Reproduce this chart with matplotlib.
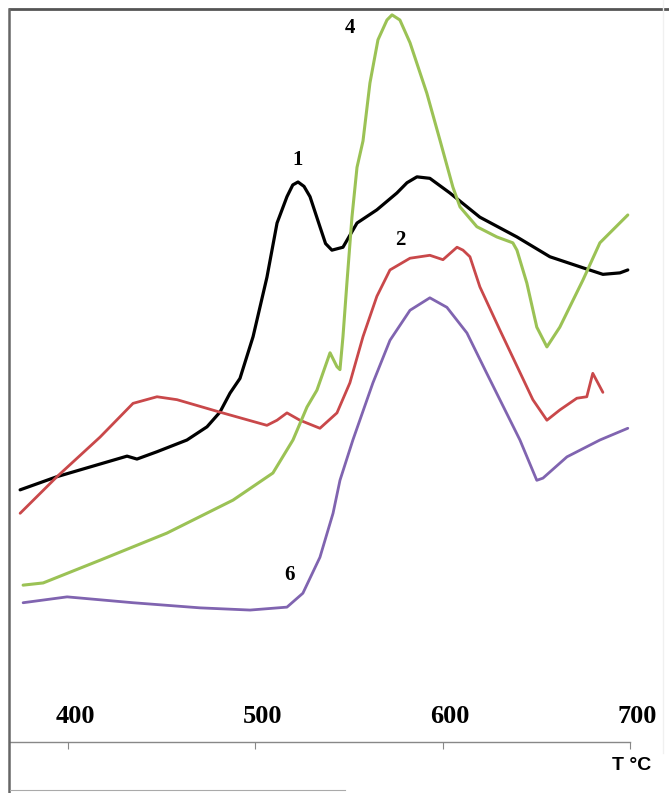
import numpy as np
import matplotlib
matplotlib.use("Agg")
import matplotlib.pyplot as plt
from matplotlib.lines import Line2D

# curve 1 (black)
t1 = [374.4, 394.1, 431.5, 436.8, 447.5, 463.5, 474.2, 481.1, 486.5, 491.8, 498.8,
      506.2, 511.6, 516.9, 520.0, 522.8, 526.0, 529.2, 534.5, 537.5, 540.9, 546.8,
      554.3, 564.9, 575.6, 581.0, 586.3, 593.2, 603.9, 619.9, 639.7, 657.3, 674.9,
      685.6, 694.7, 698.9]
y1 = [34.4, 36.2, 39.0, 38.6, 39.6, 41.2, 43.0, 45.0, 47.6, 49.6, 55.3,
      63.4, 70.8, 74.4, 76.0, 76.4, 75.8, 74.4, 70.3, 68.0, 67.1, 67.5,
      70.8, 72.6, 74.9, 76.3, 77.1, 76.9, 74.9, 71.6, 68.9, 66.2, 64.7,
      63.8, 64.0, 64.4]

# curve 2 (red)
t2 = [374.4, 394.1, 417.1, 434.7, 447.5, 458.2, 481.1, 506.2, 511.6, 516.9, 523.8,
      534.5, 543.6, 550.5, 557.5, 564.9, 571.9, 582.6, 593.2, 600.2, 607.7, 610.9,
      614.6, 619.9, 630.6, 648.2, 655.7, 662.6, 671.7, 677.0, 680.2, 685.6]
y2 = [31.2, 36.2, 41.6, 46.2, 47.1, 46.7, 45.0, 43.2, 43.9, 44.9, 43.9,
      42.8, 44.9, 49.0, 55.3, 60.8, 64.4, 66.0, 66.4, 65.8, 67.5, 67.1,
      66.2, 62.1, 56.2, 46.7, 43.9, 45.3, 46.9, 47.1, 50.3, 47.7]

# curve 4 (green)
t4 = [376.0, 386.7, 417.1, 452.8, 488.1, 509.4, 520.1, 527.6, 532.9, 539.9, 543.6,
      545.2, 546.8, 548.9, 551.6, 554.3, 557.5, 561.2, 565.5, 570.3, 573.0, 577.2,
      582.6, 591.6, 598.6, 605.5, 609.3, 618.3, 629.0, 637.5, 639.7, 645.0, 650.3,
      655.7, 662.6, 674.9, 684.0, 698.9]
y4 = [21.4, 21.7, 24.8, 28.5, 33.0, 36.7, 41.2, 45.7, 48.0, 53.1, 51.2,
      50.8, 55.3, 62.6, 71.6, 78.4, 82.0, 89.9, 95.8, 98.5, 99.2, 98.5,
      95.4, 88.5, 82.1, 75.7, 73.0, 70.3, 68.9, 68.1, 67.1, 62.6, 56.6,
      53.9, 56.6, 63.0, 68.1, 71.9]

# curve 6 (purple)
t6 = [376.0, 399.5, 434.7, 470.5, 497.2, 516.9, 525.4, 534.5, 541.5, 545.2, 552.1,
      562.8, 571.9, 582.6, 593.2, 602.3, 613.0, 623.0, 641.3, 650.3, 653.6,
      666.4, 684.0, 698.9]
y6 = [19.0, 19.8, 19.0, 18.3, 18.0, 18.4, 20.3, 25.2, 31.2, 35.7, 41.2,
      49.0, 54.8, 58.9, 60.6, 59.3, 55.8, 50.6, 41.2, 35.7, 36.0,
      38.9, 41.2, 42.8]

xticks = [400, 500, 600, 700]
curve_labels = ["1", "2", "4", "6"]
label_pos = [(522.8, 79.4), (577.2, 68.5), (550.5, 97.4), (518.5, 22.8)]

W, H = 669, 793
fig = plt.figure(figsize=(W / 100, H / 100), dpi=100)
ax = fig.add_axes([10 / W, (H - 742) / H, 659 / W, 733 / H])

kw = dict(solid_capstyle="round", solid_joinstyle="round")
ax.plot(t1, y1, color="black", lw=2.3, **kw)
ax.plot(t2, y2, color="#c9484a", lw=2.0, **kw)
ax.plot(t4, y4, color="#9bc255", lw=2.2, **kw)
ax.plot(t6, y6, color="#8064b0", lw=2.0, **kw)

for txt, (tx, ty) in zip(curve_labels, label_pos):
    ax.text(tx, ty, txt, ha="center", va="center", fontsize=15,
            fontweight="bold", family="Liberation Serif")

ax.set_xlim(369.0, 720.9)
ax.set_ylim(0, 100)
ax.set_yticks([])
ax.set_xticks(xticks)
ax.set_xticklabels([])
ax.tick_params(axis="x", direction="out", length=5, width=0.8, color="#888888")
for t in xticks:
    ax.text(t + 4, 0.035, str(t), transform=ax.get_xaxis_transform(), ha="center",
            va="center", fontsize=19, fontweight="bold", family="Liberation Serif")

ax.spines["right"].set_visible(False)
ax.spines["left"].set_visible(False)
ax.spines["top"].set_color("#555555")
ax.spines["top"].set_linewidth(2)
ax.spines["bottom"].set_color("#888888")
ax.spines["bottom"].set_linewidth(1)
ax.spines["bottom"].set_bounds(369.0, 700)

# left frame line runs past the axis to the bottom
fig.add_artist(Line2D([9 / W, 9 / W], [0, (H - 9) / H], color="#666666", lw=1.8,
                      transform=fig.transFigure))
fig.add_artist(Line2D([10 / W, 345 / W], [3 / H, 3 / H], color="#aaaaaa", lw=0.8,
                      transform=fig.transFigure))
fig.add_artist(Line2D([663 / W, 663 / W], [0.05, 1], color="#f0f0f0", lw=1,
                      transform=fig.transFigure))

fig.text(632 / W, (H - 765) / H, "T °C", ha="center", va="center", fontsize=14,
         fontweight="bold", family="Liberation Sans")

fig.savefig("out.png", dpi=100)
